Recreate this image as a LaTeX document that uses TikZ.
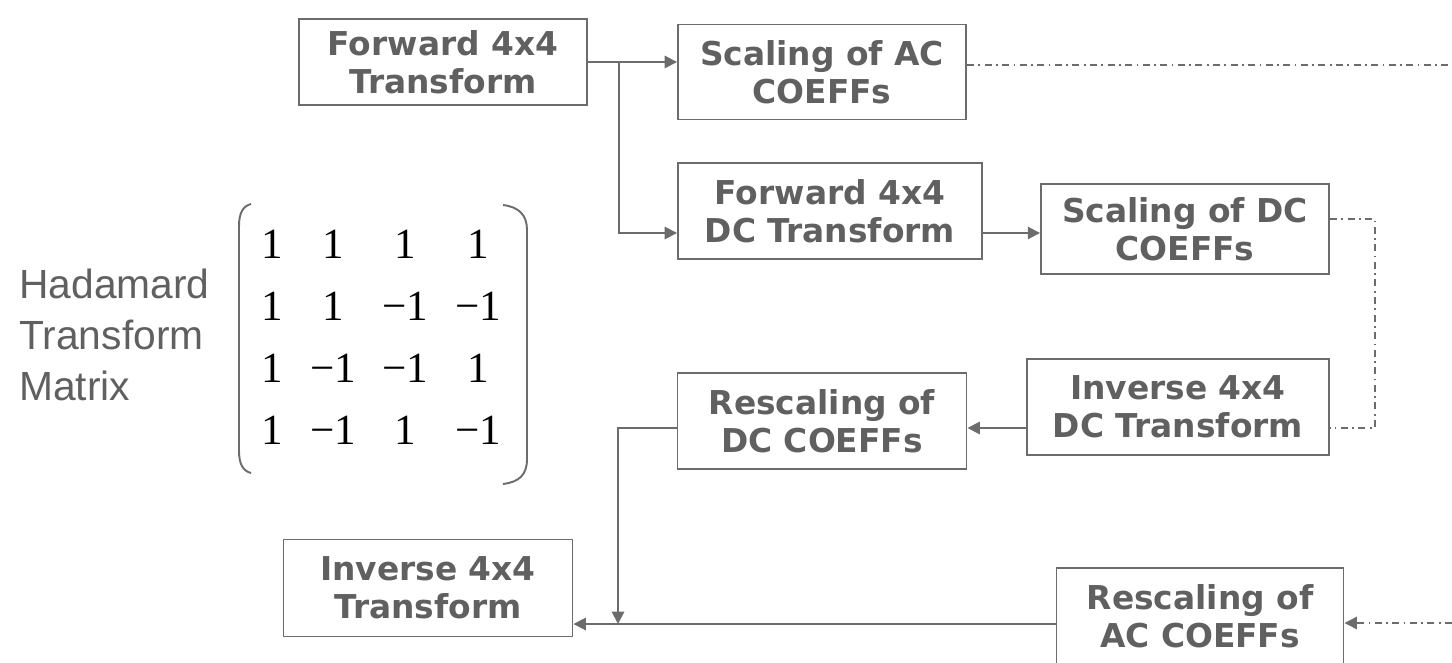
\documentclass[tikz,border=0pt]{standalone}
\usepackage{fontspec}
\usetikzlibrary{arrows.meta, calc}
\newfontfamily\boxfont{DejaVu Sans}
\newfontfamily\labelfont{Liberation Sans}
\newfontfamily\matfont{Liberation Serif}
\definecolor{boxgray}{RGB}{96,96,96}
\definecolor{linegray}{RGB}{108,108,108}

\begin{document}
\begin{tikzpicture}[
  x=0.02cm, y=-0.02cm,
  blk/.style={draw=linegray, line width=1.1pt, align=center, inner sep=0pt,
    font=\boxfont\bfseries\fontsize{18.7}{21.5}\selectfont, text=boxgray},
  sz/.style 2 args={minimum width=#1*0.02cm, minimum height=#2*0.02cm},
  arr/.style={linegray, line width=1.1pt, -{Triangle[length=7pt, width=7pt]}},
  dd/.style={linegray, line width=0.8pt, dash pattern=on 4pt off 2.5pt on 1pt off 2.5pt},
  entry/.style={font=\matfont\fontsize{24.5}{26}\selectfont, inner sep=0pt},
  paren/.style={linegray, line width=1.1pt}
]
  \useasboundingbox (0,0) rectangle (1452,662);

  % Blocks
  \node[blk, sz={288}{86}] (fwd) at (443,62) {Forward 4x4\\Transform};
  \node[blk, sz={288}{95}] (scac) at (822,72) {Scaling of AC\\COEFFs};
  \node[blk, sz={304}{96}] (fwddc) at (830,211) {Forward 4x4\\DC Transform};
  \node[blk, sz={288}{90}] (scdc) at (1185,229) {Scaling of DC\\COEFFs};
  \node[blk, sz={302}{96}] (invdc) at (1178,407) {Inverse 4x4\\DC Transform};
  \node[blk, sz={289}{96}] (rsdc) at (822,421) {Rescaling of\\DC COEFFs};
  \node[blk, sz={289}{97}] (inv) at (428,588) {Inverse 4x4\\Transform};
  \node[blk, sz={287}{96}] (rsac) at (1200,616) {Rescaling of\\AC COEFFs};

  % Hadamard matrix
  \node[anchor=west, align=left, inner sep=0pt, text=boxgray,
    font=\labelfont\fontsize{23.2}{29}\selectfont] (lbl) at (19,335) {Hadamard\\Transform\\Matrix};
  \foreach \r/\y/\a/\b/\c/\d in {1/244/1/1/1/1, 2/306/1/1/−1/−1, 3/368/1/−1/−1/1, 4/430/1/−1/1/−1} {
    \node[entry] (m\r1) at (272,\y) {\a};
    \node[entry] (m\r2) at (333,\y) {\b};
    \node[entry] (m\r3) at (405,\y) {\c};
    \node[entry] (m\r4) at (478,\y) {\d};
  }
  \draw[paren] (251,204) .. controls (243,206) and (239,213) .. (239,226)
    -- (239,451) .. controls (239,464) and (243,471) .. (251,473);
  \draw[paren] (503,205) .. controls (519,207) and (527,215) .. (527,230)
    -- (527,459) .. controls (527,475) and (519,482) .. (503,484);

  % Forward path
  \coordinate (split) at (619,62);
  \draw[arr] (fwd.east) -- (fwd.east -| scac.west);
  \draw[arr] (split) |- ($(fwddc.west)+(0,22)$);
  \draw[arr] ($(fwddc.east)+(0,22)$) -- ($(scdc.west)+(0,4)$);

  % DC loop
  \draw[dd] ($(scdc.east)+(0,-10)$) -- ++(45,0) |- ($(invdc.east)+(0,21)$);
  \draw[arr] ($(invdc.west)+(0,21)$) -- ($(rsdc.east)+(0,7)$);
  \coordinate (merge) at (618,624);
  \draw[arr] ($(rsdc.west)+(0,7)$) -| (merge);
  \draw[arr] ($(rsac.west)+(0,8)$) -- (inv.east |- merge);

  % AC coefficients leave and come back on the right
  \coordinate (acout) at (1452,65);
  \coordinate (acin) at (1452,623);
  \draw[dd] ($(scac.east)+(0,-7)$) -- (acout);
  \draw[dd, -{Triangle[length=7pt, width=7pt]}] (acin) -- (rsac.east |- acin);
\end{tikzpicture}
\end{document}
